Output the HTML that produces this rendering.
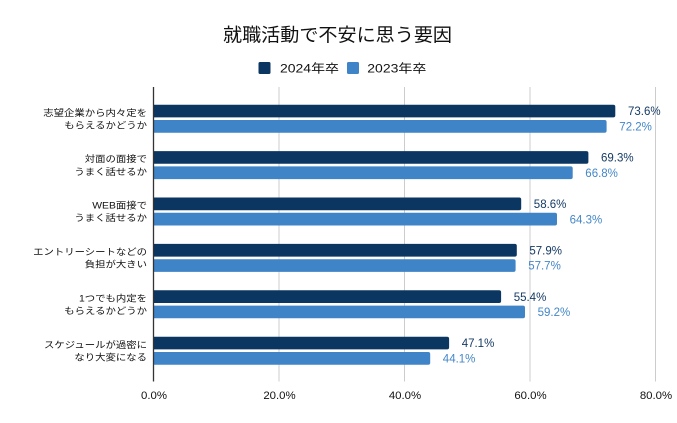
<!DOCTYPE html>
<html>
<head>
<meta charset="utf-8">
<style>
  html,body{margin:0;padding:0;background:#fff;}
  svg{display:block;}
  .cat{font-family:"Liberation Sans","Noto Sans CJK JP",sans-serif;font-size:9.2px;fill:#111;}
  .val{font-family:"Liberation Sans","Noto Sans CJK JP",sans-serif;font-size:11.5px;}
  .ax{font-family:"Liberation Sans",sans-serif;font-size:11.4px;fill:#111;}
</style>
</head>
<body>
<svg width="677" height="423" viewBox="0 0 677 423" xmlns="http://www.w3.org/2000/svg">
  <rect width="677" height="423" fill="#ffffff"/>
  <!-- Title -->
  <text x="223" y="41.5" textLength="229" lengthAdjust="spacingAndGlyphs" font-family="'Liberation Sans','Noto Sans CJK JP',sans-serif" font-size="18.5" fill="#111">就職活動で不安に思う要因</text>
  <!-- Legend -->
  <rect x="258.5" y="62" width="12" height="12" rx="1.5" fill="#0b3661"/>
  <text x="280" y="72.5" textLength="59" lengthAdjust="spacingAndGlyphs" font-family="'Liberation Sans','Noto Sans CJK JP',sans-serif" font-size="12" fill="#111">2024年卒</text>
  <rect x="347" y="62" width="12" height="12" rx="1.5" fill="#3f84c7"/>
  <text x="367.3" y="72.5" textLength="59" lengthAdjust="spacingAndGlyphs" font-family="'Liberation Sans','Noto Sans CJK JP',sans-serif" font-size="12" fill="#111">2023年卒</text>

  <!-- Gridlines -->
  <g stroke="#cccccc" stroke-width="1">
    <line x1="279" y1="87" x2="279" y2="381.5"/>
    <line x1="404.5" y1="87" x2="404.5" y2="381.5"/>
    <line x1="530" y1="87" x2="530" y2="381.5"/>
    <line x1="655.5" y1="87" x2="655.5" y2="381.5"/>
  </g>

  <!-- Bars -->
  <g>
    <path d="M153.5 104.7 h459.8 q2 0 2 2 v8.7 q0 2 -2 2 h-459.8 z" fill="#0b3661"/>
    <path d="M153.5 120 h451.1 q2 0 2 2 v8.7 q0 2 -2 2 h-451.1 z" fill="#3f84c7"/>
    <path d="M153.5 151.1 h432.9 q2 0 2 2 v8.7 q0 2 -2 2 h-432.9 z" fill="#0b3661"/>
    <path d="M153.5 166.4 h417.2 q2 0 2 2 v8.7 q0 2 -2 2 h-417.2 z" fill="#3f84c7"/>
    <path d="M153.5 197.5 h365.7 q2 0 2 2 v8.7 q0 2 -2 2 h-365.7 z" fill="#0b3661"/>
    <path d="M153.5 212.8 h401.5 q2 0 2 2 v8.7 q0 2 -2 2 h-401.5 z" fill="#3f84c7"/>
    <path d="M153.5 243.9 h361.3 q2 0 2 2 v8.7 q0 2 -2 2 h-361.3 z" fill="#0b3661"/>
    <path d="M153.5 259.2 h360.1 q2 0 2 2 v8.7 q0 2 -2 2 h-360.1 z" fill="#3f84c7"/>
    <path d="M153.5 290.3 h345.6 q2 0 2 2 v8.7 q0 2 -2 2 h-345.6 z" fill="#0b3661"/>
    <path d="M153.5 305.6 h369.5 q2 0 2 2 v8.7 q0 2 -2 2 h-369.5 z" fill="#3f84c7"/>
    <path d="M153.5 336.7 h293.6 q2 0 2 2 v8.7 q0 2 -2 2 h-293.6 z" fill="#0b3661"/>
    <path d="M153.5 352 h274.7 q2 0 2 2 v8.7 q0 2 -2 2 h-274.7 z" fill="#3f84c7"/>
  </g>

  <!-- Axis line -->
  <line x1="153.5" y1="87" x2="153.5" y2="381.5" stroke="#333333" stroke-width="1.3"/>

  <!-- Value labels -->
  <g class="val">
    <text x="628" y="115.2" fill="#163b64">73.6%</text>
    <text x="619.3" y="130.5" fill="#4487c8">72.2%</text>
    <text x="601" y="161.6" fill="#163b64">69.3%</text>
    <text x="585.3" y="176.9" fill="#4487c8">66.8%</text>
    <text x="533.8" y="208" fill="#163b64">58.6%</text>
    <text x="569.6" y="223.3" fill="#4487c8">64.3%</text>
    <text x="529.4" y="254.4" fill="#163b64">57.9%</text>
    <text x="528.2" y="269.7" fill="#4487c8">57.7%</text>
    <text x="513.7" y="300.8" fill="#163b64">55.4%</text>
    <text x="537.6" y="316.1" fill="#4487c8">59.2%</text>
    <text x="461.7" y="347.2" fill="#163b64">47.1%</text>
    <text x="442.8" y="362.5" fill="#4487c8">44.1%</text>
  </g>

  <!-- Category labels -->
  <g transform="translate(147,0) scale(1.13,1)" class="cat" text-anchor="end">
    <text x="0" y="115.8">志望企業から内々定を</text>
    <text x="0" y="128.4">もらえるかどうか</text>
    <text x="0" y="162.2">対面の面接で</text>
    <text x="0" y="174.8">うまく話せるか</text>
    <text x="0" y="208.6">WEB面接で</text>
    <text x="0" y="221.2">うまく話せるか</text>
    <text x="0" y="255">エントリーシートなどの</text>
    <text x="0" y="267.6">負担が大きい</text>
    <text x="0" y="301.4">1つでも内定を</text>
    <text x="0" y="314">もらえるかどうか</text>
    <text x="0" y="347.8">スケジュールが過密に</text>
    <text x="0" y="360.4">なり大変になる</text>
  </g>

  <!-- Axis tick labels -->
  <g class="ax" text-anchor="middle">
    <text x="154" y="399">0.0%</text>
    <text x="279.5" y="399">20.0%</text>
    <text x="405" y="399">40.0%</text>
    <text x="530.5" y="399">60.0%</text>
    <text x="656" y="399">80.0%</text>
  </g>
</svg>
</body>
</html>
